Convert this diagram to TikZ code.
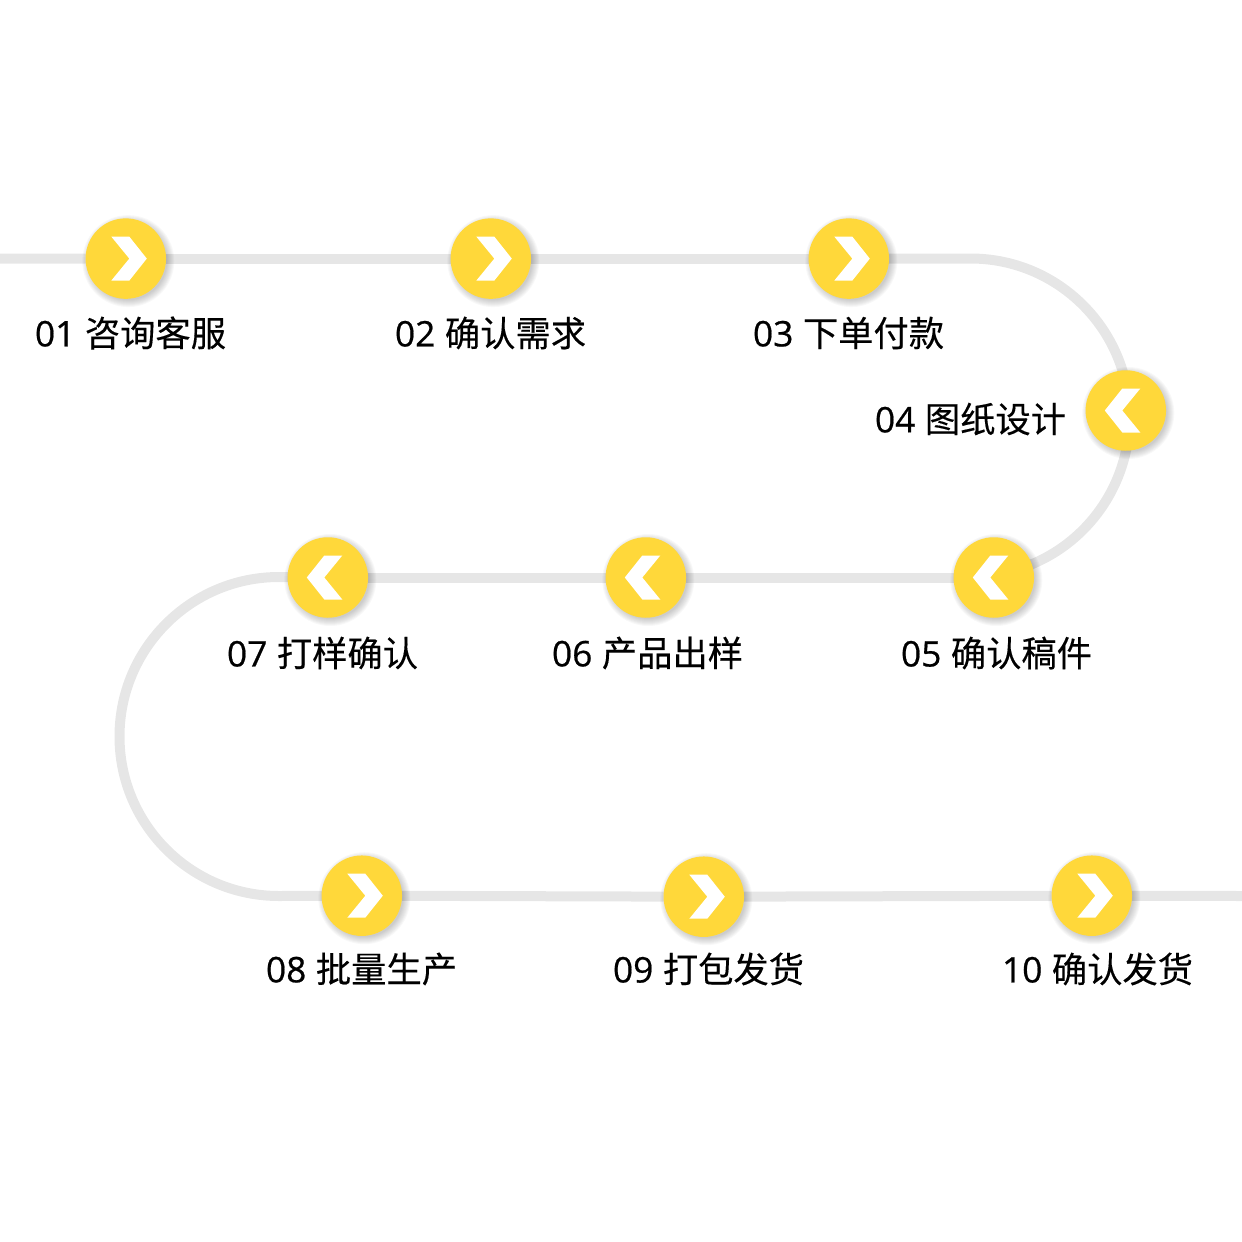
\documentclass[tikz,border=0pt]{standalone}
\usepackage{fontspec}
\usetikzlibrary{backgrounds}
\newfontfamily\cjkf[FakeBold=0.25]{Noto Sans CJK SC}
\newfontfamily\numf[FakeBold=0.6]{Open Sans}
\definecolor{dotyellow}{HTML}{FFD83A}
\definecolor{trackgrey}{HTML}{E6E6E6}
\tikzset{
  x=1pt,y=-1pt,
  track/.style={draw=trackgrey,line width=10pt,line cap=butt},
  dot/.style={circle,fill=dotyellow,minimum size=80.5pt,inner sep=0pt,outer sep=0pt},
  chev/.style={fill=white,draw=none},
  lab/.style={anchor=west,inner sep=0pt,outer sep=0pt,text=black,font=\fontsize{35.3}{35.3}\selectfont},
}
\newcommand{\stepdot}[4]{% name, x, y, direction (1 right, -1 left)
  \foreach \r in {46,45,44,43,42,41,40,39}{
    \fill[black,opacity=0.028] (#2+2.5,#3+2.5) circle[radius=\r];
  }
  \node[dot] (#1) at (#2,#3) {};
  \begin{scope}[shift={(#2,#3)},xscale=#4]
    \fill[chev] (-14.5,-22) -- (3.5,-22) -- (21,0) -- (3.5,22) -- (-14.5,22) -- (3.5,0) -- cycle;
  \end{scope}
}
\newcommand{\steplab}[5]{% name, x, y, num, text
  \node[lab] (#1) at (#2,#3) {{\numf #4}\hspace{9.5pt}{\cjkf #5}};
}
\begin{document}
\begin{tikzpicture}
\useasboundingbox (0,0) rectangle (1242,1242);
\stepdot{s1}{125.8}{258.6}{1}
\stepdot{s2}{490.8}{258.6}{1}
\stepdot{s3}{848.8}{258.6}{1}
\stepdot{s4}{1125.8}{410.5}{-1}
\stepdot{s5}{993.8}{577.5}{-1}
\stepdot{s6}{645.8}{577.5}{-1}
\stepdot{s7}{327.8}{577.5}{-1}
\stepdot{s8}{361.8}{895.7}{1}
\stepdot{s9}{703.8}{896.7}{1}
\stepdot{s10}{1091.8}{895.7}{1}
\coordinate (inL) at (0,258.5);
\coordinate (outR) at (1242,896);
\coordinate (a1) at (970.5,258.5);
\coordinate (a3) at (1129.5,417.5);
\coordinate (a2) at (279,577);
\begin{scope}[on background layer]
  \draw[track] (inL) -- (s1);
  \draw[track] (s1) -- (s2);
  \draw[track] (s2) -- (s3);
  \draw[track] (s3.center) -- (a1) arc[start angle=90,end angle=0,radius=159pt] -- (s4.center);
  \draw[track] (s4.center) -- (a3) arc[start angle=0,end angle=-72,radius=159pt] -- (s5.center);
  \draw[track] (s5) -- (s6);
  \draw[track] (s6) -- (s7);
  \draw[track] (s7.center) -- (a2) arc[start angle=90,end angle=270,radius=159.5pt] -- (s8.center);
  \draw[track] (s8) -- (s9);
  \draw[track] (s9) -- (s10);
  \draw[track] (s10) -- (outR);
\end{scope}
\steplab{t1}{35}{333}{01}{咨询客服}
\steplab{t2}{395}{333}{02}{确认需求}
\steplab{t3}{753}{333}{03}{下单付款}
\steplab{t4}{875}{419}{04}{图纸设计}
\steplab{t5}{901}{653}{05}{确认稿件}
\steplab{t6}{552}{653}{06}{产品出样}
\steplab{t7}{227}{653}{07}{打样确认}
\steplab{t8}{266}{969}{08}{批量生产}
\steplab{t9}{613}{969}{09}{打包发货}
\steplab{t10}{1002}{969}{10}{确认发货}
\end{tikzpicture}
\end{document}
